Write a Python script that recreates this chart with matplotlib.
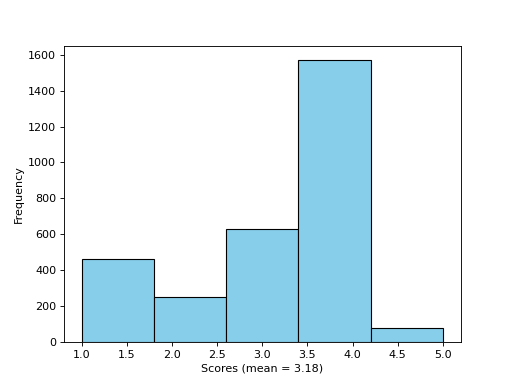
import matplotlib
matplotlib.use("Agg")
import matplotlib.pyplot as plt
import numpy as np

scores = [1, 2, 3, 4, 5]
counts = [460, 252, 626, 1570, 74]

mean = np.average(scores, weights=counts)

fig, ax = plt.subplots(figsize=(6.4, 4.8), dpi=80)
ax.hist(scores, bins=5, weights=counts, color='skyblue', edgecolor='black')
ax.set_xlabel(f"Scores (mean = {mean:.2f})")
ax.set_ylabel("Frequency")
fig.savefig("out.png", dpi=80)
